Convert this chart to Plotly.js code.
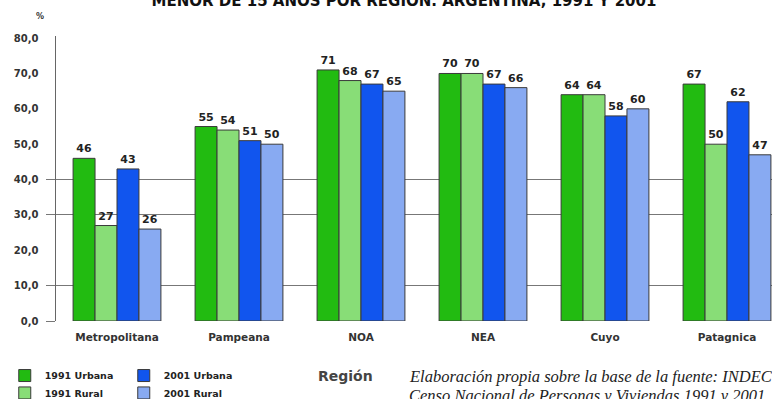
<!DOCTYPE html>
<html>
<head>
<meta charset="utf-8">
<script src="https://cdn.plot.ly/plotly-3.0.1.min.js"></script>
<style>
  html, body { margin: 0; padding: 0; overflow: hidden; background: #fff; }
  #chart { width: 800px; height: 399px; }
</style>
</head>
<body>
<div id="chart"></div>
<script>
// Regions and percentages per census year and area
const regions = ["Metropolitana", "Pampeana", "NOA", "NEA", "Cuyo", "Patagnica"];
const urbana1991 = [46, 55, 71, 70, 64, 67];
const rural1991 = [27, 54, 68, 70, 64, 50];
const urbana2001 = [43, 51, 67, 67, 58, 62];
const rural2001 = [26, 50, 65, 66, 60, 47];

const yTickVals = [0, 10, 20, 30, 40, 50, 60, 70, 80];
const yTickText = ["0,0", "10,0", "20,0", "30,0", "40,0", "50,0", "60,0", "70,0", "80,0"];
const gridVals = [0, 10, 30, 40];

const boldFont = "DejaVu Sans, Verdana, sans-serif";

function barTrace(name, values, color, legendId) {
  return {
    type: "bar",
    name: name,
    x: regions,
    y: values,
    text: values.map(String),
    textposition: "outside",
    cliponaxis: false,
    textfont: { family: boldFont, size: 11, color: "#222", weight: "bold" },
    marker: { color: color, line: { color: "#3a3a3a", width: 1 } },
    legend: legendId,
    hoverinfo: "x+y+name"
  };
}

const data = [
  barTrace("1991 Urbana", urbana1991, "#22bb11", "legend"),
  barTrace("1991 Rural", rural1991, "#88dd77", "legend2"),
  barTrace("2001 Urbana", urbana2001, "#1155ee", "legend"),
  barTrace("2001 Rural", rural2001, "#88aaf2", "legend2"),
  // invisible trace carrying the partial horizontal grid
  { type: "scatter", x: [regions[0]], y: [0], yaxis: "y2", mode: "markers",
    marker: { opacity: 0 }, showlegend: false, hoverinfo: "skip" }
];

const legendFont = { family: boldFont, size: 9.5, color: "#222", weight: "bold" };

const layout = {
  width: 800,
  height: 399,
  margin: { l: 56, r: 12, t: 36, b: 78, autoexpand: false },
  paper_bgcolor: "#fff",
  plot_bgcolor: "rgba(0,0,0,0)",
  barmode: "group",
  bargap: 0.28,
  bargroupgap: 0,
  showlegend: true,
  title: {
    text: "MENOR DE 15 AÑOS POR REGIÓN. ARGENTINA, 1991 Y 2001",
    font: { family: boldFont, size: 15, color: "#111", weight: "bold" },
    x: 0.505, xref: "container", xanchor: "center",
    y: 0.998, yref: "container", yanchor: "middle",
    automargin: false
  },
  xaxis: {
    type: "category",
    range: [-0.5, 5.5],
    showline: false,
    showgrid: false,
    ticks: "",
    automargin: false,
    tickfont: { family: boldFont, size: 10.5, color: "#333", weight: "bold" },
    ticklabelstandoff: 8
  },
  yaxis: {
    range: [0, 80.6],
    tickvals: yTickVals,
    ticktext: yTickText,
    showgrid: false,
    zeroline: false,
    showline: true,
    linecolor: "#666",
    linewidth: 1.5,
    ticks: "",
    automargin: false,
    ticklabelstandoff: 14,
    tickfont: { family: boldFont, size: 10, color: "#333", weight: "bold" }
  },
  yaxis2: {
    overlaying: "y",
    range: [0, 80.6],
    tickvals: gridVals,
    showticklabels: false,
    showgrid: true,
    gridcolor: "#777",
    gridwidth: 1,
    zeroline: false,
    ticks: "outside",
    ticklen: 9,
    tickcolor: "#777",
    showline: false,
    automargin: false
  },
  legend: {
    orientation: "h",
    x: -0.07, xanchor: "left",
    y: -0.1405, yanchor: "top",
    font: legendFont,
    entrywidth: 74,
    itemwidth: 30,
    traceorder: "normal",
    bgcolor: "rgba(0,0,0,0)"
  },
  legend2: {
    orientation: "h",
    x: -0.07, xanchor: "left",
    y: -0.2015, yanchor: "top",
    font: legendFont,
    entrywidth: 74,
    itemwidth: 30,
    traceorder: "normal",
    bgcolor: "rgba(0,0,0,0)"
  },
  annotations: [
    { text: "%", xref: "paper", yref: "paper", x: -0.022, y: 1.07,
      xanchor: "center", yanchor: "middle", showarrow: false,
      font: { family: boldFont, size: 8, color: "#333", weight: "bold" } },
    { text: "Región", xref: "paper", yref: "paper", x: 0.396, y: -0.193,
      xanchor: "center", yanchor: "middle", showarrow: false,
      font: { family: boldFont, size: 14, color: "#444", weight: "bold" } },
    { text: "<i>Elaboración propia sobre la base de la fuente: INDEC</i>",
      xref: "paper", yref: "paper", x: 0.48, y: -0.196,
      xanchor: "left", yanchor: "middle", showarrow: false,
      font: { family: "Liberation Serif, Times New Roman, serif", size: 16.5, color: "#222" } },
    { text: "<i>Censo Nacional de Personas y Viviendas 1991 y 2001</i>",
      xref: "paper", yref: "paper", x: 0.48, y: -0.263,
      xanchor: "left", yanchor: "middle", showarrow: false,
      font: { family: "Liberation Serif, Times New Roman, serif", size: 16.5, color: "#222" } }
  ]
};

Plotly.newPlot("chart", data, layout, { displayModeBar: false, staticPlot: true });
</script>
</body>
</html>
